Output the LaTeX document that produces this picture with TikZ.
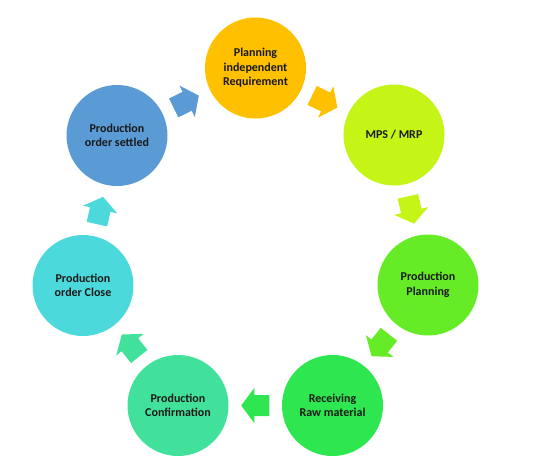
\documentclass[tikz,border=0pt]{standalone}
\usepackage{fontspec}
\setmainfont{Carlito}
\usetikzlibrary{calc}
\definecolor{cOrange}{HTML}{FFC000}
\definecolor{cMps}{HTML}{C5F516}
\definecolor{cPlan}{HTML}{66EC26}
\definecolor{cRecv}{HTML}{2EE64F}
\definecolor{cConf}{HTML}{42E19B}
\definecolor{cClose}{HTML}{4CD9DC}
\definecolor{cSettle}{HTML}{5B9BD5}
\newcommand\cyclearrow[3]{%
  \pgfmathanglebetweenpoints{\pgfpointanchor{#1}{center}}{\pgfpointanchor{#2}{center}}%
  \let\arrang\pgfmathresult
  \begin{scope}[shift={($(#1)!0.5!(#2)$)}, rotate=\arrang]
    \fill[#3] (-14,-10.5) -- (1,-10.5) -- (1,-17.5) -- (14,0) -- (1,17.5) -- (1,10.5) -- (-14,10.5) -- cycle;
  \end{scope}}
\begin{document}
\begin{tikzpicture}[x=1pt,y=-1pt,
  stage/.style={circle, minimum size=101pt, inner sep=0pt, align=center,
    font=\fontsize{12}{14.5}\selectfont\bfseries, text=black!90}]
\useasboundingbox (0,0) rectangle (535,469);
\node[stage, fill=cOrange] (a) at (255.5,68) {Planning\\independent\\Requirement};
\node[stage, fill=cMps] (b) at (394,135) {MPS / MRP};
\node[stage, fill=cPlan] (c) at (428,285) {Production\\Planning};
\node[stage, fill=cRecv] (d) at (332.5,405.5) {Receiving\\Raw material};
\node[stage, fill=cConf] (e) at (178,405.5) {Production\\Confirmation};
\node[stage, fill=cClose] (f) at (83,285.5) {Production\\order Close};
\node[stage, fill=cSettle] (g) at (117,135.5) {Production\\order settled};
\cyclearrow{a}{b}{cOrange}
\cyclearrow{b}{c}{cMps}
\cyclearrow{c}{d}{cPlan}
\cyclearrow{d}{e}{cRecv}
\cyclearrow{e}{f}{cConf}
\cyclearrow{f}{g}{cClose}
\cyclearrow{g}{a}{cSettle}
\end{tikzpicture}
\end{document}
